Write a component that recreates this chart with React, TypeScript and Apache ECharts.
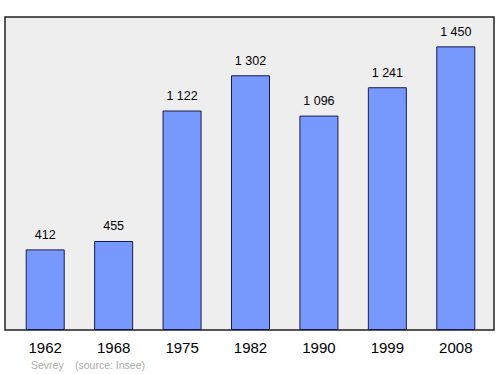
import React, { useEffect, useRef } from "react";
import * as echarts from "echarts";

const years = ["1962", "1968", "1975", "1982", "1990", "1999", "2008"];
const population = [412, 455, 1122, 1302, 1096, 1241, 1450];
const commune = "Sevrey";
const source = "(source: Insee)";

const fmt = (v: number) => {
  const s = String(v);
  return s.length > 3 ? s.slice(0, s.length - 3) + " " + s.slice(-3) : s;
};

export default function App() {
  const ref = useRef<HTMLDivElement>(null);
  useEffect(() => {
    const chart = echarts.init(ref.current!, null, { renderer: "svg" });
    chart.setOption({
      animation: false,
      textStyle: { fontFamily: "Liberation Sans, Arial, sans-serif" },
      grid: { left: 11, right: 10, top: 17, bottom: 44 },
      graphic: [
        {
          type: "rect",
          shape: { x: 5, y: 17, width: 489, height: 313 },
          style: { fill: "#eeeeee", stroke: "#222222", lineWidth: 1.5 },
          z: -10,
        },
        {
          type: "text",
          x: 31,
          y: 359,
          style: { text: commune, fill: "#aaaaaa", fontSize: 10.5, fontFamily: "Liberation Sans, Arial, sans-serif" },
        },
        {
          type: "text",
          x: 75,
          y: 359,
          style: { text: source, fill: "#aaaaaa", fontSize: 10.5, fontFamily: "Liberation Sans, Arial, sans-serif" },
        },
      ],
      xAxis: {
        type: "category",
        data: years,
        axisLine: { show: false },
        axisTick: { show: false },
        axisLabel: { color: "#000", fontSize: 15, margin: 10 },
      },
      yAxis: {
        type: "value",
        min: 0,
        max: 1600,
        show: false,
        splitLine: { show: false },
      },
      series: [
        {
          type: "bar",
          data: population,
          barWidth: 39,
          itemStyle: { color: "#7799ff", borderColor: "#1a1a4a", borderWidth: 1 },
          label: {
            show: true,
            position: "top",
            distance: 8,
            color: "#000",
            fontSize: 12.5,
            formatter: (p: any) => fmt(p.value),
          },
        },
      ],
    });
    return () => chart.dispose();
  }, []);
  return <div ref={ref} style={{ width: 500, height: 374, position: "absolute", left: 0, top: 0 }} />;
}
